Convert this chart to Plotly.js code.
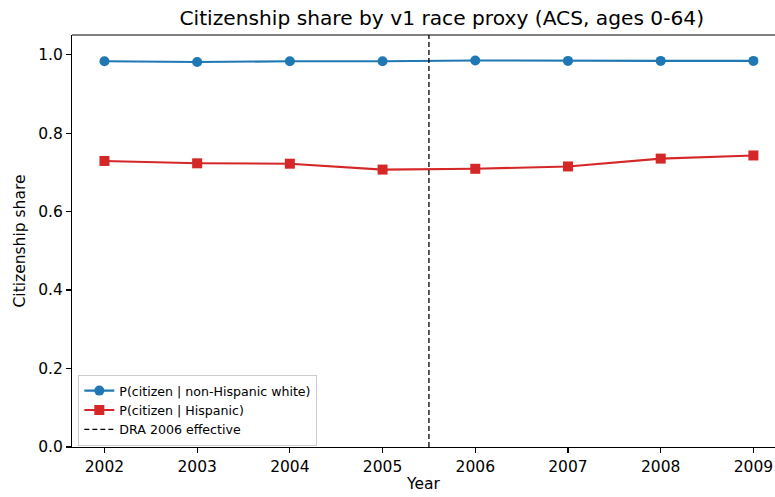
<!DOCTYPE html>
<html>
<head>
<meta charset="utf-8">
<script src="https://cdn.plot.ly/plotly-3.0.1.min.js"></script>
<style>html,body{margin:0;padding:0;background:#fff;}#chart{width:775px;height:497px;}</style>
</head>
<body>
<div id="chart"></div>
<script>
var years = [2002, 2003, 2004, 2005, 2006, 2007, 2008, 2009];
var whiteShare = [0.983, 0.981, 0.983, 0.983, 0.985, 0.984, 0.984, 0.984];
var hispanicShare = [0.729, 0.723, 0.722, 0.707, 0.709, 0.715, 0.735, 0.743];
var policyYear = [2005.5];
var policyLabel = "DRA 2006 effective";
var yTicks = [0, 0.2, 0.4, 0.6, 0.8, 1.0];
var yTickText = ["0.0", "0.2", "0.4", "0.6", "0.8", "1.0"];

var font = "DejaVu Sans, sans-serif";
var traces = [
  {x: years, y: whiteShare, name: "P(citizen | non-Hispanic white)", mode: "lines+markers",
   line: {color: "#1f77b4", width: 2.1}, marker: {symbol: "circle", size: 10, color: "#1f77b4"}},
  {x: years, y: hispanicShare, name: "P(citizen | Hispanic)", mode: "lines+markers",
   line: {color: "#d62728", width: 2.1}, marker: {symbol: "square", size: 10, color: "#d62728"}},
  {x: [policyYear[0], policyYear[0]], y: [0, 1.05], name: policyLabel, mode: "lines",
   line: {color: "#000000", width: 1.3, dash: "5px,3px"}, hoverinfo: "skip"}
];
var layout = {
  width: 775, height: 497,
  margin: {l: 72, r: 0, t: 35, b: 50},
  paper_bgcolor: "#fff", plot_bgcolor: "#fff",
  font: {family: font, size: 15.5, color: "#000"},
  title: {text: "Citizenship share by v1 race proxy (ACS, ages 0-64)", font: {family: font, size: 20.2, color: "#000"},
          x: 0.526, xref: "paper", xanchor: "center", y: 0.963, yref: "container", yanchor: "middle"},
  xaxis: {range: [2001.65, 2009.233], tickvals: years, ticktext: years.map(String),
          showgrid: false, zeroline: false, showline: true, linecolor: "#000", linewidth: 1.1,
          ticks: "outside", ticklen: 5, tickwidth: 1.1, tickcolor: "#000", tickfont: {size: 15.5},
          title: {text: "Year", font: {family: font, size: 15.5}, standoff: 3}},
  yaxis: {range: [0, 1.05], tickvals: yTicks, ticktext: yTickText,
          showgrid: false, zeroline: false, showline: true, linecolor: "#000", linewidth: 1.1,
          ticks: "outside", ticklen: 5, tickwidth: 1.1, tickcolor: "#000", tickfont: {size: 15.5},
          title: {text: "Citizenship share", font: {family: font, size: 15.5}, standoff: 8}},
  shapes: [{type: "line", xref: "paper", yref: "paper", x0: 0, x1: 1, y0: 1, y1: 1,
            line: {color: "#000", width: 1.1}}],
  showlegend: true,
  legend: {x: 0.009, y: 0.175, xanchor: "left", yanchor: "top", bgcolor: "rgba(255,255,255,0.8)",
           bordercolor: "#cccccc", borderwidth: 1, font: {family: font, size: 12.6, color: "#000"},
           tracegroupgap: 0, itemwidth: 30}
};
Plotly.newPlot("chart", traces, layout, {displayModeBar: false, staticPlot: true});
</script>
</body>
</html>
